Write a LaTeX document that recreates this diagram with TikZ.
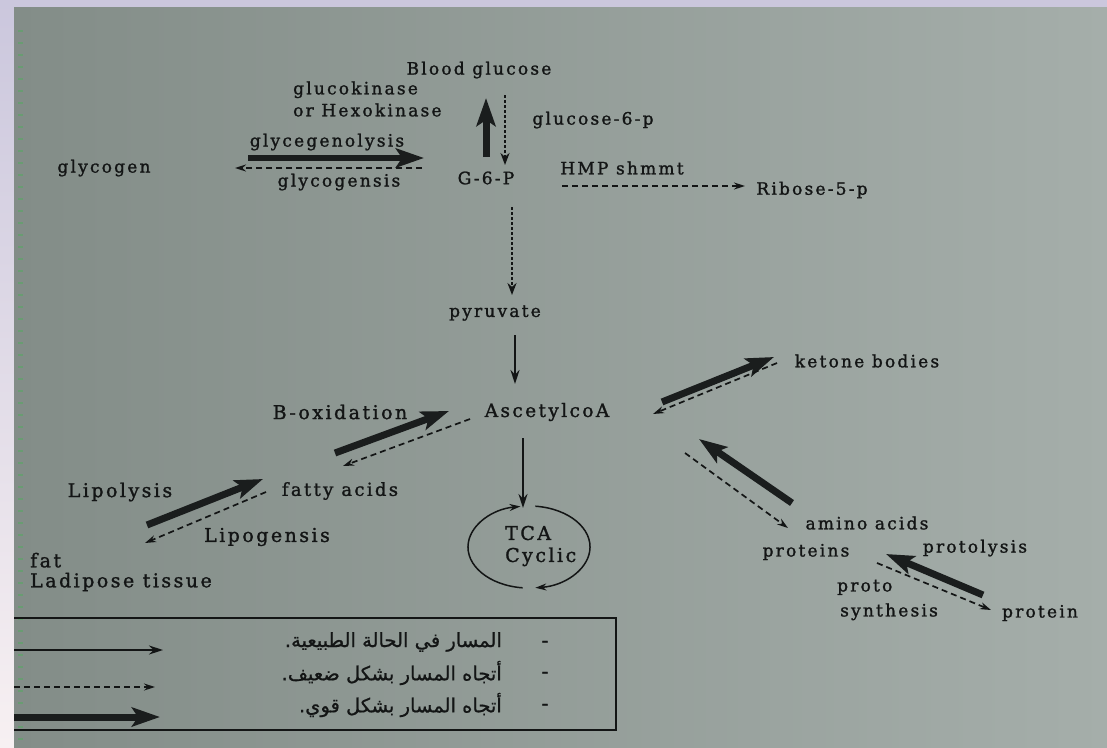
\documentclass[tikz,border=0pt]{standalone}
\usepackage{fontspec}
\setmainfont{DejaVu Serif}[LetterSpace=13,FakeBold=1.4]
\newfontfamily\arabicfont[Script=Arabic,FakeBold=0.8]{DejaVu Sans}
\TeXXeTstate=1
\usetikzlibrary{arrows.meta}
\definecolor{ink}{HTML}{131515}
\definecolor{boldink}{HTML}{1A1D1D}
\definecolor{pageL}{HTML}{838D88}
\definecolor{pageR}{HTML}{A5AEAA}
\definecolor{frameTop}{HTML}{CBC7DD}
\definecolor{frameMid}{HTML}{EAC9CA}
\definecolor{frameBot}{HTML}{F7F0F2}
\definecolor{tick}{HTML}{5FA36A}
\begin{document}
\begin{tikzpicture}[x=1pt,y=-1pt,
  lbl/.style={font=\fontsize{17}{20}\selectfont, text=ink, inner sep=0pt},
  big/.style={font=\fontsize{19}{20}\selectfont},
  strong/.style={draw=boldink, line width=7pt, -{Stealth[length=28pt,width=19pt,inset=6pt]}},
  weak/.style={draw=ink, line width=1.7pt, dash pattern=on 6pt off 4pt, -{Stealth[length=11pt,width=7pt]}},
  dotweak/.style={draw=ink, line width=2.6pt, dash pattern=on 2.5pt off 2.5pt, -{Stealth[length=12pt,width=9pt]}},
  normal/.style={draw=ink, line width=1.8pt, -{Stealth[length=14pt,width=9pt]}},
  cyc/.style={draw=ink, line width=1.5pt, -{Stealth[length=11pt,width=7pt]}},
  ar/.style={font=\arabicfont\fontsize{19.5}{20}\selectfont, text=ink, inner sep=0pt}]
\useasboundingbox (0,0) rectangle (1107,747);
% photo frame and page
\fill[frameTop] (0,0) rectangle (1107,747);
\shade[top color=frameTop, middle color=frameMid, bottom color=frameBot] (0,0) rectangle (14,747);
\shade[left color=pageL, right color=pageR] (14,7) rectangle (1107,747);
\draw[tick, opacity=0.7, line width=5pt, dash pattern=on 1.5pt off 10.5pt] (20,30) -- (20,740);

% ---------- labels ----------
\node[lbl] (blood) at (479,70) {Blood glucose};
\node[lbl, align=left, anchor=west, font=\fontsize{17}{22}\selectfont] (kin) at (293,99) {glucokinase\\or Hexokinase};
\node[lbl] (g6pname) at (593,120) {glucose-6-p};
\node[lbl] (glyceg) at (327,142) {glycegenolysis};
\node[lbl] (glycogensis) at (339,182) {glycogensis};
\node[lbl] (glycogen) at (104,168) {glycogen};
\node[lbl] (g6p) at (486,178) {G-6-P};
\node[lbl] (hmp) at (622,168) {HMP shmmt};
\node[lbl] (ribose) at (812,190) {Ribose-5-p};
\node[lbl] (pyr) at (495,313) {pyruvate};
\node[lbl, font=\fontsize{18.5}{20}\selectfont] (acoa) at (547,412) {AscetylcoA};
\node[lbl, big] (box) at (340,412) {B-oxidation};
\node[lbl, font=\fontsize{18}{20}\selectfont] (fa) at (340,491) {fatty acids};
\node[lbl, big] (lipolysis) at (120,492) {Lipolysis};
\node[lbl, big] (lipogensis) at (267,537) {Lipogensis};
\node[lbl, big, align=left, anchor=west] (fat) at (30,572) {fat\\Ladipose tissue};
\node[lbl, align=left, anchor=west, font=\fontsize{19}{22}\selectfont] (tca) at (505,546) {TCA\\Cyclic};
\node[lbl] (ketone) at (867,361) {ketone bodies};
\node[lbl] (amino) at (867,523) {amino acids};
\node[lbl] (proteins) at (806,552) {proteins};
\node[lbl] (protolysis) at (975,548) {protolysis};
\node[lbl, align=left, anchor=west, font=\fontsize{17}{25}\selectfont] (protosyn) at (837,600) {proto\\\hspace*{3pt}synthesis};
\node[lbl] (protein) at (1040,613) {protein};

% ---------- arrow end points ----------
\coordinate (upA) at (486,157);  \coordinate (upB) at (486,98);
\coordinate (dnA) at (505,95);   \coordinate (dnB) at (505,165);
\coordinate (gyA) at (248,158);  \coordinate (gyB) at (424,158);
\coordinate (gsA) at (422,168);  \coordinate (gsB) at (235,168);
\coordinate (hmA) at (562,186);  \coordinate (hmB) at (745,186);
\coordinate (pvA) at (512,207);  \coordinate (pvB) at (512,295);
\coordinate (acA) at (515,335);  \coordinate (acB) at (515,384);
\coordinate (boA) at (335,453);  \coordinate (boB) at (449,411);
\coordinate (bdA) at (470,419);  \coordinate (bdB) at (343,466);
\coordinate (lpA) at (147,525);  \coordinate (lpB) at (263,479);
\coordinate (ldA) at (266,492);  \coordinate (ldB) at (145,543);
\coordinate (tcA) at (523,438);  \coordinate (tcB) at (523,508);
\coordinate (kbA) at (662,402);  \coordinate (kbB) at (774,357);
\coordinate (kdA) at (777,363);  \coordinate (kdB) at (653,414);
\coordinate (amA) at (792,503);  \coordinate (amB) at (699,439);
\coordinate (adA) at (685,453);  \coordinate (adB) at (788,528);
\coordinate (plA) at (983,595);  \coordinate (plB) at (886,554);
\coordinate (pdA) at (877,563);  \coordinate (pdB) at (991,610);

% ---------- connectors ----------
\draw[strong] (upA) -- (upB);
\draw[dotweak] (dnA) -- (dnB);
\draw[strong, line width=6pt] (gyA) -- (gyB);
\draw[weak] (gsA) -- (gsB);
\draw[weak] (hmA) -- (hmB);
\draw[dotweak] (pvA) -- (pvB);
\draw[normal] (acA) -- (acB);
\draw[strong] (boA) -- (boB);
\draw[weak] (bdA) -- (bdB);
\draw[strong] (lpA) -- (lpB);
\draw[weak] (ldA) -- (ldB);
\draw[normal] (tcA) -- (tcB);
\draw[strong] (kbA) -- (kbB);
\draw[weak] (kdA) -- (kdB);
\draw[strong] (amA) -- (amB);
\draw[weak] (adA) -- (adB);
\draw[strong] (plA) -- (plB);
\draw[weak] (pdA) -- (pdB);

% TCA cycle
\draw[cyc] (522.6,587.8) arc[start angle=96, end angle=262, x radius=61, y radius=41];
\draw[cyc] (535.4,506.2) arc[start angle=-84, end angle=84, x radius=61, y radius=41];

% ---------- legend ----------
\draw[ink, line width=1.3pt] (14,618) -- (616,618) -- (616,730) -- (14,730);
\coordinate (l1A) at (14,650); \coordinate (l1B) at (163,650);
\coordinate (l2A) at (14,687); \coordinate (l2B) at (155,687);
\coordinate (l3A) at (14,717); \coordinate (l3B) at (160,717);
\draw[normal, line width=1.5pt] (l1A) -- (l1B);
\draw[weak, line width=1.3pt] (l2A) -- (l2B);
\draw[strong, line width=7pt] (l3A) -- (l3B);
\node[ar, anchor=east] (ar1) at (502,642) {\beginR المسار في الحالة الطبيعية.\endR};
\node[ar, anchor=east] (ar2) at (502,673) {\beginR أتجاه المسار بشكل ضعيف.\endR};
\node[ar, anchor=east] (ar3) at (502,705) {\beginR أتجاه المسار بشكل قوي.\endR};
\node[ar] (d1) at (545,644) {-};
\node[ar] (d2) at (545,675) {-};
\node[ar] (d3) at (545,707) {-};
\end{tikzpicture}
\end{document}
